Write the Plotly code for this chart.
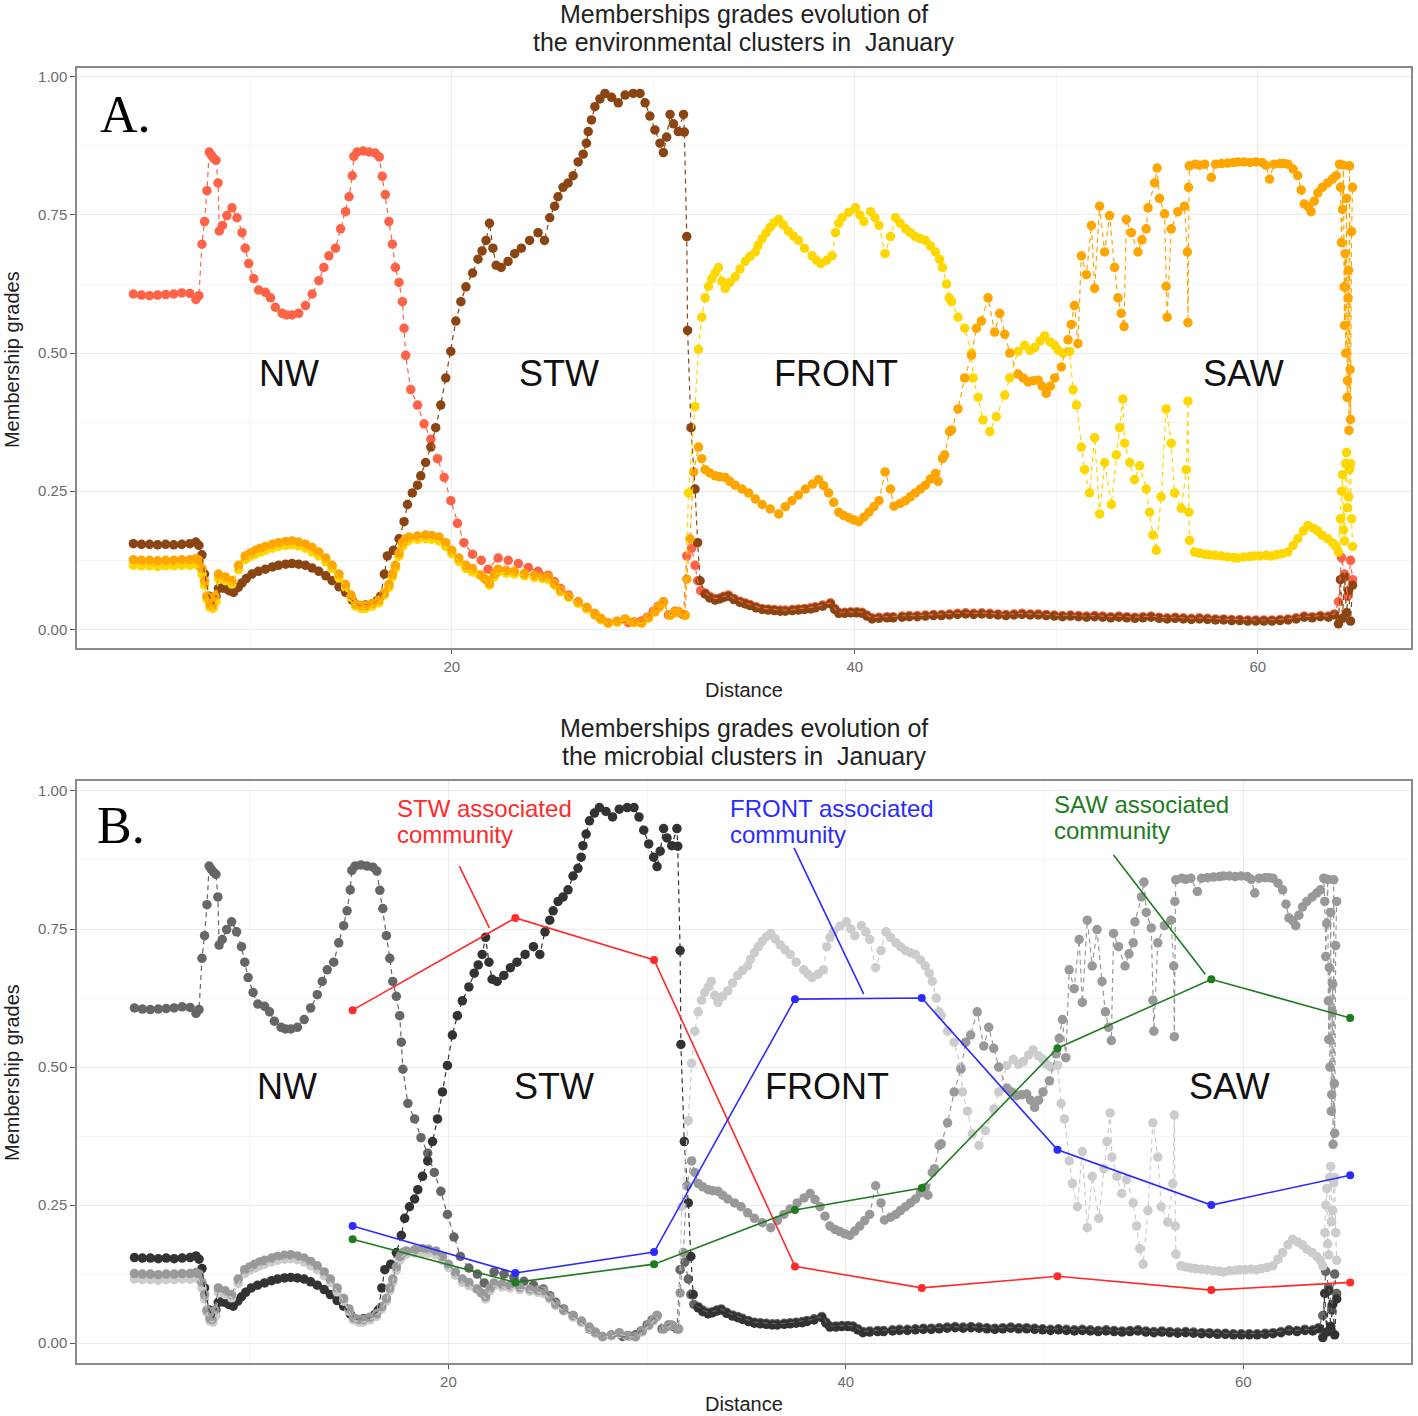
import plotly.graph_objects as go

# ---------------- data (distance, membership grade) ----------------
nw = [(4.2,.607),(4.6,.605),(5.0,.604),(5.4,.605),(5.8,.606),(6.2,.607),(6.6,.609),(7.0,.608),(7.3,.597),(7.45,.604),
      (7.6,.697),(7.73,.738),(7.85,.794),(7.96,.864),(8.07,.858),(8.18,.853),(8.3,.849),(8.4,.808),(8.46,.721),(8.62,.731),
      (8.84,.749),(9.09,.763),(9.34,.745),(9.59,.718),(9.75,.69),(9.92,.662),(10.17,.635),(10.41,.614),(10.75,.61),(11.0,.6),
      (11.24,.583),(11.58,.572),(11.8,.569),(12.07,.569),(12.4,.572),(12.74,.586),(13.07,.607),(13.4,.631),(13.65,.655),(13.9,.676),
      (14.23,.69),(14.48,.725),(14.73,.756),(14.9,.783),(15.06,.821),(15.14,.856),(15.3,.864),(15.6,.866),(15.9,.864),(16.2,.862),
      (16.4,.855),(16.55,.82),(16.7,.787),(16.88,.738),(17.05,.697),(17.2,.655),(17.38,.628),(17.55,.593),(17.63,.545),(17.71,.496),
      (17.96,.434),(18.3,.406),(18.62,.372),(18.96,.344),(19.29,.309),(19.62,.275),(19.95,.233),(20.28,.192),(20.6,.157),(21.03,.136),
      (21.46,.125),(21.8,.109),(22.3,.129),(22.8,.125),(23.3,.119),(23.8,.112),(24.28,.105),(24.78,.098),(25.1,.086),(25.4,.074),
      (25.8,.062),(26.27,.05),(26.7,.038),(27.1,.026),(27.4,.018),(27.76,.012),(28.2,.014),(28.76,.012),(29.1,.013),(29.42,.015),
      (29.7,.022),(30.0,.033),(30.25,.042),(30.5,.05),(30.75,.026),(31.08,.033),(31.3,.03),(31.5,.026),(31.66,.133),(31.9,.147),
      (32.07,.116),(32.2,.088),(32.35,.07),(32.57,.066),(32.8,.06),(33.07,.056),(33.3,.057),(33.5,.06),(33.73,.062),(34.0,.056),
      (34.3,.051),(34.56,.048),(34.8,.045),(35.1,.041),(35.4,.038),(35.7,.037),(36.0,.036),(36.3,.035),(36.55,.035),(36.9,.036),
      (37.2,.037),(37.5,.038),(37.8,.039),(38.04,.041),(38.4,.044),(38.79,.048),(39.0,.038),(39.2,.031),(39.5,.031),(39.8,.032),
      (40.1,.032),(40.36,.031),(40.6,.026),(40.86,.021),(41.2,.022),(41.6,.023),(41.9,.023),(42.35,.024),(42.7,.025),(43.1,.025),
      (43.5,.026),(43.9,.027),(44.3,.027),(44.7,.028),(45.1,.029),(45.5,.03),(45.9,.029),(46.3,.03),(46.7,.029),(47.1,.028),
      (47.5,.027),(47.9,.028),(48.3,.029),(48.7,.028),(49.1,.028),(49.5,.027),(49.9,.026),(50.3,.025),(50.7,.026),(51.1,.025),
      (51.5,.024),(51.9,.025),(52.3,.024),(52.7,.023),(53.1,.024),(53.5,.023),(53.9,.022),(54.3,.023),(54.7,.024),(55.1,.022),
      (55.5,.021),(55.9,.022),(56.3,.021),(56.7,.02),(57.1,.021),(57.5,.02),(57.9,.019),(58.3,.019),(58.7,.018),(59.1,.018),
      (59.5,.017),(59.9,.017),(60.3,.017),(60.7,.017),(61.1,.018),(61.5,.019),(61.9,.021),(62.3,.024),(62.7,.023),(63.1,.025),
      (63.5,.024),(63.8,.028),(64.0,.05),(64.15,.13),(64.3,.1),(64.45,.06),(64.6,.125),(64.7,.09)]

stw = [(4.2,.155),(4.6,.154),(5.0,.154),(5.4,.153),(5.8,.154),(6.2,.153),(6.6,.154),(7.0,.155),(7.3,.158),(7.45,.152),
       (7.6,.135),(7.73,.10),(7.96,.06),(8.18,.046),(8.3,.06),(8.42,.074),(8.6,.075),(8.76,.074),(8.95,.07),(9.17,.067),
       (9.4,.076),(9.59,.084),(9.8,.092),(10.08,.10),(10.4,.105),(10.75,.109),(11.1,.113),(11.4,.116),(11.75,.118),(12.07,.119),
       (12.4,.118),(12.74,.116),(13.07,.111),(13.4,.105),(13.75,.097),(14.06,.088),(14.4,.077),(14.73,.067),(15.06,.053),(15.4,.043),
       (15.72,.044),(16.05,.046),(16.3,.052),(16.47,.06),(16.65,.10),(16.8,.133),(17.1,.143),(17.38,.164),(17.63,.195),(17.8,.226),
       (18.04,.247),(18.3,.261),(18.46,.278),(18.7,.302),(18.96,.33),(19.2,.365),(19.45,.406),(19.7,.455),(19.95,.503),(20.2,.558),
       (20.45,.593),(20.7,.62),(21.03,.645),(21.3,.67),(21.5,.685),(21.7,.704),(21.87,.735),(22.04,.69),(22.2,.659),(22.45,.655),
       (22.79,.666),(23.12,.68),(23.45,.69),(23.86,.704),(24.28,.718),(24.6,.704),(24.86,.745),(25.1,.766),(25.27,.783),(25.52,.8),
       (25.77,.808),(26.02,.821),(26.27,.846),(26.52,.86),(26.68,.88),(26.77,.901),(26.93,.922),(27.1,.946),(27.35,.96),(27.6,.97),
       (27.93,.963),(28.26,.953),(28.6,.967),(29.0,.97),(29.34,.97),(29.59,.953),(29.83,.929),(30.08,.904),(30.33,.88),(30.5,.863),
       (30.66,.891),(30.83,.932),(31.0,.915),(31.24,.901),(31.5,.932),(31.54,.9),(31.66,.711),(31.7,.541),(31.87,.365),(32.07,.254),
       (32.2,.157),(32.32,.088),(32.57,.064),(32.8,.057),(33.07,.053),(33.3,.055),(33.5,.058),(33.73,.06),(34.0,.054),(34.3,.049),
       (34.56,.046),(34.8,.043),(35.1,.039),(35.4,.036),(35.7,.035),(36.0,.034),(36.3,.033),(36.55,.033),(36.9,.034),(37.2,.035),
       (37.5,.036),(37.8,.037),(38.04,.039),(38.4,.042),(38.79,.046),(39.0,.036),(39.2,.029),(39.5,.029),(39.8,.03),(40.1,.03),
       (40.36,.029),(40.6,.024),(40.86,.019),(41.2,.02),(41.6,.021),(41.9,.021),(42.35,.022),(42.7,.023),(43.1,.023),(43.5,.024),
       (43.9,.025),(44.3,.025),(44.7,.026),(45.1,.027),(45.5,.028),(45.9,.027),(46.3,.028),(46.7,.027),(47.1,.026),(47.5,.025),
       (47.9,.026),(48.3,.027),(48.7,.026),(49.1,.026),(49.5,.025),(49.9,.024),(50.3,.023),(50.7,.024),(51.1,.023),(51.5,.022),
       (51.9,.023),(52.3,.022),(52.7,.021),(53.1,.022),(53.5,.021),(53.9,.02),(54.3,.021),(54.7,.022),(55.1,.02),(55.5,.019),
       (55.9,.02),(56.3,.019),(56.7,.018),(57.1,.019),(57.5,.018),(57.9,.017),(58.3,.017),(58.7,.016),(59.1,.016),(59.5,.015),
       (59.9,.015),(60.3,.015),(60.7,.015),(61.1,.016),(61.5,.017),(61.9,.019),(62.3,.022),(62.7,.021),(63.1,.023),(63.5,.022),
       (63.8,.026),(64.0,.01),(64.1,.09),(64.2,.02),(64.3,.095),(64.4,.03),(64.5,.07),(64.6,.015),(64.7,.08)]

front = [(4.2,.116),(4.6,.115),(5.0,.115),(5.4,.114),(5.8,.115),(6.2,.115),(6.6,.116),(7.0,.116),(7.3,.118),(7.45,.115),
         (7.6,.10),(7.73,.08),(7.85,.055),(8.0,.04),(8.15,.038),(8.3,.05),(8.42,.092),(8.76,.088),(9.09,.082),(9.42,.108),
         (9.75,.126),(10.0,.132),(10.25,.136),(10.5,.14),(10.75,.143),(11.1,.147),(11.4,.15),(11.75,.152),(12.07,.153),(12.4,.151),
         (12.74,.147),(13.07,.14),(13.4,.133),(13.75,.122),(14.06,.11),(14.4,.093),(14.73,.076),(15.0,.058),(15.22,.042),(15.5,.038),
         (15.72,.038),(16.05,.042),(16.38,.048),(16.65,.062),(16.88,.076),(17.05,.095),(17.2,.11),(17.38,.132),(17.55,.15),(17.7,.158),
         (17.88,.161),(18.3,.163),(18.7,.164),(19.0,.163),(19.37,.16),(19.7,.15),(20.0,.137),(20.35,.123),(20.7,.11),(21.03,.104),
         (21.36,.099),(21.6,.092),(21.87,.08),(22.1,.095),(22.3,.104),(22.7,.102),(23.1,.1),(23.6,.097),(24.1,.094),(24.5,.092),
         (24.8,.09),(25.1,.08),(25.4,.068),(25.8,.058),(26.27,.047),(26.7,.037),(27.1,.027),(27.4,.018),(27.76,.011),(28.2,.013),
         (28.6,.017),(29.0,.012),(29.42,.011),(29.75,.02),(30.08,.031),(30.3,.04),(30.5,.048),(30.83,.025),(31.05,.03),(31.24,.032),
         (31.58,.025),(31.74,.247),(32.07,.403),(32.24,.507),(32.4,.565),(32.57,.6),(32.74,.621),(32.9,.635),(33.07,.645),(33.23,.655),
         (33.4,.63),(33.57,.617),(33.8,.628),(34.06,.638),(34.3,.652),(34.56,.666),(34.8,.675),(35.06,.683),(35.2,.695),(35.4,.707),
         (35.6,.718),(35.8,.728),(36.0,.736),(36.22,.742),(36.45,.732),(36.7,.721),(36.95,.712),(37.2,.704),(37.5,.69),(37.88,.676),
         (38.1,.668),(38.3,.662),(38.6,.668),(38.87,.676),(39.04,.718),(39.2,.735),(39.37,.745),(39.7,.755),(40.03,.763),(40.25,.75),
         (40.45,.738),(40.78,.756),(41.0,.745),(41.2,.731),(41.5,.68),(41.77,.711),(42.02,.745),(42.25,.735),(42.52,.725),(42.75,.718),
         (43.0,.711),(43.25,.707),(43.5,.704),(43.75,.694),(44.0,.683),(44.2,.67),(44.35,.655),(44.55,.625),(44.68,.6),(44.8,.593),
         (45.12,.565),(45.45,.545),(45.79,.5),(45.87,.455),(46.12,.42),(46.36,.379),(46.7,.358),(47.02,.385),(47.44,.424),(47.69,.455),
         (48.1,.503),(48.43,.514),(48.7,.505),(48.93,.51),(49.2,.522),(49.42,.531),(49.7,.52),(49.92,.514),(50.1,.505),(50.33,.5),
         (50.66,.503),(50.83,.434),(51.0,.406),(51.24,.33),(51.4,.289),(51.65,.247),(51.9,.347),(52.15,.209),(52.4,.302),(52.73,.226),
         (52.98,.316),(53.14,.365),(53.3,.417),(53.39,.337),(53.64,.302),(53.88,.271),(54.13,.296),(54.46,.254),(54.63,.212),(54.79,.171),
         (54.96,.143),(55.2,.24),(55.45,.399),(55.7,.337),(55.87,.247),(56.2,.219),(56.45,.289),(56.53,.413),(56.58,.212),(56.61,.161),
         (56.86,.14),(57.1,.138),(57.36,.136),(57.6,.135),(57.9,.134),(58.18,.133),(58.5,.131),(58.8,.13),(59.0,.129),(59.3,.131),
         (59.6,.132),(59.83,.133),(60.1,.133),(60.4,.134),(60.66,.133),(60.9,.135),(61.2,.137),(61.49,.14),(61.75,.152),(61.98,.164),
         (62.25,.178),(62.48,.188),(62.75,.183),(62.98,.178),(63.2,.17),(63.47,.164),(63.7,.157),(63.88,.15),(64.0,.14),(64.1,.2),
         (64.15,.25),(64.2,.28),(64.25,.18),(64.3,.16),(64.35,.30),(64.4,.32),(64.45,.22),(64.5,.24),(64.55,.29),(64.6,.3),
         (64.65,.2),(64.7,.15)]

saw = [(4.2,.126),(4.6,.125),(5.0,.125),(5.4,.124),(5.8,.125),(6.2,.125),(6.6,.126),(7.0,.126),(7.3,.128),(7.45,.125),
       (7.6,.11),(7.73,.088),(7.85,.06),(8.0,.045),(8.1,.043),(8.25,.06),(8.42,.10),(8.76,.095),(9.09,.088),(9.42,.116),
       (9.75,.133),(10.0,.138),(10.25,.143),(10.5,.147),(10.75,.15),(11.1,.154),(11.4,.157),(11.75,.159),(12.07,.16),(12.4,.158),
       (12.74,.154),(13.07,.148),(13.4,.14),(13.75,.129),(14.06,.116),(14.4,.1),(14.73,.081),(15.0,.062),(15.22,.046),(15.5,.043),
       (15.72,.043),(16.05,.047),(16.38,.053),(16.65,.066),(16.88,.081),(17.05,.1),(17.2,.116),(17.38,.138),(17.55,.157),(17.7,.164),
       (17.88,.167),(18.3,.169),(18.7,.171),(19.0,.17),(19.37,.167),(19.7,.157),(20.0,.143),(20.35,.129),(20.7,.116),(21.03,.11),
       (21.46,.098),(21.7,.09),(21.87,.084),(22.1,.1),(22.3,.109),(22.7,.107),(23.1,.105),(23.6,.101),(24.1,.098),(24.5,.096),
       (24.8,.095),(25.1,.083),(25.4,.071),(25.8,.06),(26.27,.05),(26.7,.04),(27.1,.029),(27.4,.02),(27.76,.012),(28.2,.015),
       (28.6,.019),(29.0,.014),(29.42,.012),(29.75,.022),(30.08,.033),(30.3,.042),(30.5,.05),(30.83,.026),(31.05,.031),(31.24,.033),
       (31.58,.026),(31.66,.091),(31.82,.164),(32.0,.285),(32.24,.33),(32.4,.309),(32.57,.289),(32.8,.283),(33.07,.278),(33.3,.276),
       (33.57,.275),(33.8,.268),(34.06,.261),(34.4,.254),(34.73,.247),(35.06,.236),(35.4,.226),(35.8,.218),(36.22,.209),(36.55,.222),
       (36.88,.233),(37.2,.243),(37.55,.254),(37.9,.263),(38.2,.271),(38.45,.26),(38.7,.247),(38.95,.23),(39.2,.212),(39.45,.206),
       (39.7,.202),(39.95,.198),(40.2,.195),(40.45,.203),(40.7,.212),(40.95,.222),(41.2,.233),(41.5,.285),(41.77,.254),(41.94,.223),
       (42.25,.228),(42.52,.233),(42.75,.24),(43.0,.247),(43.25,.254),(43.5,.261),(43.75,.272),(44.0,.282),(44.13,.268),(44.35,.309),
       (44.46,.316),(44.7,.358),(44.8,.361),(45.12,.399),(45.45,.455),(45.79,.496),(46.03,.545),(46.28,.558),(46.61,.6),(46.94,.538),
       (47.19,.572),(47.44,.534),(47.69,.5),(48.1,.462),(48.35,.455),(48.6,.448),(48.85,.45),(49.1,.451),(49.3,.44),(49.5,.427),
       (49.7,.44),(49.92,.455),(50.25,.475),(50.58,.524),(50.74,.552),(50.9,.586),(51.07,.517),(51.24,.676),(51.49,.642),(51.74,.731),
       (51.9,.617),(52.15,.766),(52.4,.683),(52.64,.749),(52.89,.655),(53.06,.6),(53.22,.572),(53.36,.548),(53.47,.742),(53.72,.718),
       (54.05,.683),(54.25,.705),(54.46,.725),(54.55,.763),(54.88,.808),(55.0,.835),(55.12,.78),(55.37,.752),(55.45,.621),(55.5,.565),
       (55.7,.725),(56.03,.756),(56.36,.766),(56.5,.683),(56.53,.555),(56.56,.8),(56.6,.839),(56.9,.842),(57.1,.84),(57.36,.842),
       (57.69,.818),(57.9,.842),(58.2,.843),(58.5,.844),(58.8,.845),(59.0,.846),(59.3,.846),(59.6,.845),(59.9,.846),(60.2,.845),
       (60.4,.84),(60.58,.815),(60.8,.842),(61.1,.843),(61.3,.843),(61.49,.842),(61.75,.833),(61.98,.821),(62.15,.795),(62.3,.77),
       (62.5,.765),(62.64,.756),(62.8,.775),(62.98,.79),(63.2,.8),(63.47,.808),(63.7,.815),(63.88,.821),(64.05,.842),(64.1,.80),
       (64.15,.7),(64.2,.76),(64.25,.84),(64.28,.62),(64.3,.55),(64.33,.68),(64.36,.50),(64.4,.78),(64.43,.42),(64.45,.45),
       (64.48,.60),(64.5,.65),(64.52,.36),(64.55,.839),(64.58,.47),(64.6,.38),(64.65,.72),(64.7,.8)]

# microbial community membership (panel B)
comm_x = [15.18, 23.37, 30.35, 37.44, 43.82, 50.65, 58.39, 65.38]
stw_comm = [0.603, 0.770, 0.694, 0.139, 0.100, 0.121, 0.096, 0.110]
front_comm = [0.212, 0.127, 0.165, 0.623, 0.625, 0.350, 0.250, 0.304]
saw_comm = [0.188, 0.110, 0.143, 0.241, 0.281, 0.534, 0.659, 0.589]

env_colors = ["#FF6347", "#8B4513", "#FFD700", "#FFA500"]
grey_colors = ["#666666", "#333333", "#CCCCCC", "#999999"]
region_labels = ["NW", "STW", "FRONT", "SAW"]
region_x = [11.9, 25.3, 39.05, 59.3]
y_ticks = [0, 0.25, 0.5, 0.75, 1.0]
y_ticktext = ["0.00", "0.25", "0.50", "0.75", "1.00"]
x_ticks = [20, 40, 60]

series = [nw, stw, front, saw]

fig = go.Figure()

for axis_id, colors in [("", env_colors), ("2", grey_colors)]:
    xa, ya = "x" + axis_id, "y" + axis_id
    for s, c in zip(series, colors):
        xs, ys = zip(*s)
        fig.add_trace(go.Scatter(x=xs, y=ys, mode="markers", xaxis=xa, yaxis=ya,
                                 marker=dict(size=9.5, color=c), showlegend=False, hoverinfo="skip"))
    for s, c in zip(series, colors):
        xs, ys = zip(*s)
        fig.add_trace(go.Scatter(x=xs, y=ys, mode="lines", xaxis=xa, yaxis=ya,
                                 line=dict(color=c, width=1.2, dash="5px,4px"), showlegend=False, hoverinfo="skip"))

comm_colors = ["#FF2A2A", "#2B2BFF", "#1E7B1E"]
for vals, c in zip([stw_comm, front_comm, saw_comm], comm_colors):
    fig.add_trace(go.Scatter(x=comm_x, y=vals, mode="lines+markers", xaxis="x2", yaxis="y2",
                             line=dict(color=c, width=1.6), marker=dict(size=8, color=c),
                             showlegend=False))

grid_major = "#EBEBEB"
grid_minor = "#F4F4F4"
SANS = "Liberation Sans"

def xaxis_cfg(rng, anchor):
    return dict(range=rng, anchor=anchor, tickvals=x_ticks, ticks="outside", ticklen=4, tickcolor="#555",
                tickfont=dict(family=SANS, size=15, color="#6b6b6b"),
                showgrid=True, gridcolor=grid_major, gridwidth=1.2, zeroline=False,
                showline=True, mirror=True, linecolor="#8a8a8a", linewidth=1.5,
                minor=dict(tickvals=[10, 30, 50], showgrid=True, gridcolor=grid_minor, gridwidth=1, ticks=""))

def yaxis_cfg(rng, domain, anchor):
    return dict(range=rng, domain=domain, anchor=anchor, tickvals=y_ticks, ticktext=y_ticktext,
                ticks="outside", ticklen=5, tickcolor="#555",
                tickfont=dict(family=SANS, size=15, color="#6b6b6b"),
                showgrid=True, gridcolor=grid_major, gridwidth=1.2, zeroline=False,
                showline=True, mirror=True, linecolor="#8a8a8a", linewidth=1.5,
                minor=dict(tickvals=[0.125, 0.375, 0.625, 0.875], showgrid=True, gridcolor=grid_minor,
                           gridwidth=1, ticks=""))

annotations = []
for axis_id in ["", "2"]:
    for lab, xv in zip(region_labels, region_x):
        annotations.append(dict(x=xv, y=0.464, xref="x" + axis_id, yref="y" + axis_id, text=lab,
                                xanchor="center", yanchor="middle",
                                showarrow=False, font=dict(family=SANS, size=36, color="#111")))

def paper_text(text, x, y, size, angle=0):
    return dict(x=x, y=y, xref="paper", yref="paper", showarrow=False, text=text, textangle=angle,
                xanchor="center", yanchor="middle",
                font=dict(family=SANS, size=size, color="#222"))

annotations += [
    dict(x=0.0157, y=0.919, xref="x domain", yref="y domain", text="A.", showarrow=False,
         xanchor="left", yanchor="middle", font=dict(family="Liberation Serif", size=52, color="#000")),
    dict(x=0.0135, y=0.924, xref="x2 domain", yref="y2 domain", text="B.", showarrow=False,
         xanchor="left", yanchor="middle", font=dict(family="Liberation Serif", size=52, color="#000")),
    paper_text("Memberships grades evolution of", 0.5, 1.0417, 25),
    paper_text("the environmental clusters in  January", 0.5, 1.0201, 25),
    paper_text("Memberships grades evolution of", 0.5, 0.4903, 25),
    paper_text("the microbial clusters in  January", 0.5, 0.4687, 25),
    paper_text("Distance", 0.5, 0.5197, 20),
    paper_text("Distance", 0.5, -0.0317, 20),
    paper_text("Membership grades", -0.0487, 0.7745, 20, -90),
    paper_text("Membership grades", -0.0487, 0.224, 20, -90),
]

callouts = [("STW associated", "community", 17.35, 0.969, 0.922, comm_colors[0]),
            ("FRONT associated", "community", 34.12, 0.969, 0.922, comm_colors[1]),
            ("SAW associated", "community", 50.4, 0.975, 0.928, comm_colors[2])]
for l1, l2, xv, y1, y2, c in callouts:
    for txt, yv in [(l1, y1), (l2, y2)]:
        annotations.append(dict(x=xv, y=yv, xref="x2", yref="y2", xanchor="left", yanchor="middle",
                                showarrow=False, text=txt, borderpad=0,
                                font=dict(family=SANS, size=24, color=c)))

shapes = [
    dict(type="line", xref="x2", yref="y2", x0=20.55, y0=0.864, x1=22.06, y1=0.752, line=dict(color=comm_colors[0], width=1.6)),
    dict(type="line", xref="x2", yref="y2", x0=37.39, y0=0.897, x1=40.9, y1=0.632, line=dict(color=comm_colors[1], width=1.6)),
    dict(type="line", xref="x2", yref="y2", x0=53.47, y0=0.884, x1=58.09, y1=0.668, line=dict(color=comm_colors[2], width=1.6)),
]

fig.update_layout(
    width=1418, height=1416,
    margin=dict(l=77, r=5, t=68, b=53),
    paper_bgcolor="white", plot_bgcolor="white",
    xaxis=xaxis_cfg([1.4, 67.6], "y"),
    yaxis=yaxis_cfg([-0.034, 1.016], [0.552, 1.0], "x"),
    xaxis2=xaxis_cfg([1.31, 68.44], "y2"),
    yaxis2=yaxis_cfg([-0.036, 1.018], [0.0, 0.4494], "x2"),
    annotations=annotations,
    shapes=shapes,
    showlegend=False,
)

fig.write_html("out.html", config={"displayModeBar": False},
               post_script="document.body.style.margin='0px';document.body.style.padding='0px';")
